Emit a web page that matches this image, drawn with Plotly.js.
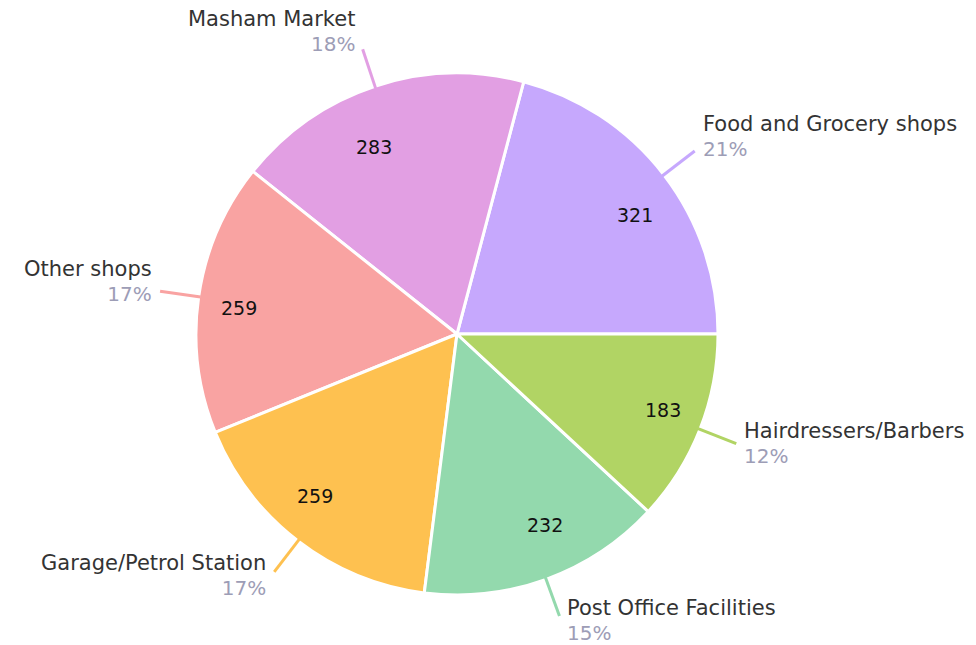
<!DOCTYPE html>
<html>
<head>
<meta charset="utf-8">
<script src="https://cdn.plot.ly/plotly-3.0.1.min.js"></script>
<style>html,body{margin:0;padding:0;background:#fff;}#chart{width:976px;height:645px;}</style>
</head>
<body>
<div id="chart"></div>
<script>
const categories = ["Food and Grocery shops", "Masham Market", "Other shops", "Garage/Petrol Station", "Post Office Facilities", "Hairdressers/Barbers"];
const counts = [321, 283, 259, 259, 232, 183];
const colors = ["#c6a8fd", "#e29fe3", "#f9a3a2", "#fec150", "#93d9ad", "#b1d464"];

const W = 976, H = 645;
const cx = 457, cy = 334, R = 261;
const FONT = "'DejaVu Sans', sans-serif";

const total = counts.reduce((a, b) => a + b, 0);
const px = x => x / W;
const py = y => 1 - y / H;

const annotations = [];
const shapes = [];
let start = 0;
counts.forEach((v, i) => {
  const frac = v / total;
  const mid = (start + frac / 2) * 2 * Math.PI;
  start += frac;
  const c = Math.cos(mid), s = Math.sin(mid);
  const right = c >= 0;
  // value label inside the slice
  annotations.push({
    xref: "paper", yref: "paper", x: px(cx + 200 * c), y: py(cy - 200 * s + 3),
    text: String(v), showarrow: false, xanchor: right ? "left" : "right", yanchor: "middle",
    font: {family: FONT, size: 19, color: "#111"}
  });
  // leader line
  const x0 = cx + (R - 2) * c, y0 = cy - (R - 2) * s;
  const x1 = cx + (R + 39) * c, y1 = cy - (R + 39) * s;
  shapes.push({type: "line", xref: "paper", yref: "paper", x0: px(x0), y0: py(y0), x1: px(x1), y1: py(y1),
    line: {color: colors[i], width: 3}});
  const blockCenter = s > 0.1 ? y1 - 8 - 10 * s : y1 - 3 - 8 * s;
  const tx = px(x1 + (right ? 7 : -7));
  const pct = Math.round(frac * 100) + "%";
  annotations.push({
    xref: "paper", yref: "paper", x: tx, y: py(blockCenter),
    text: "<span style='font-size:21px'>" + categories[i] + "</span><br>" +
          "<span style='font-size:20px;color:#9d9db6'>" + pct + "</span>",
    showarrow: false, xanchor: right ? "left" : "right", yanchor: "middle",
    align: right ? "left" : "right", borderpad: 0,
    font: {family: FONT, size: 19.3, color: "#333333"}
  });
});

const data = [{
  type: "pie",
  labels: categories,
  values: counts,
  sort: false,
  direction: "counterclockwise",
  rotation: 90 - 360 * counts[0] / total,
  marker: {colors: colors, line: {color: "#ffffff", width: 3}},
  textinfo: "none",
  hoverinfo: "label+value+percent",
  domain: {x: [(cx - R) / W, (cx + R) / W], y: [(H - cy - R) / H, (H - cy + R) / H]},
  showlegend: false
}];

const layout = {
  width: W, height: H,
  margin: {l: 0, r: 0, t: 0, b: 0},
  paper_bgcolor: "#ffffff",
  showlegend: false,
  annotations: annotations,
  shapes: shapes,
  font: {family: FONT}
};

Plotly.newPlot("chart", data, layout, {displayModeBar: false, staticPlot: true});
</script>
</body>
</html>
